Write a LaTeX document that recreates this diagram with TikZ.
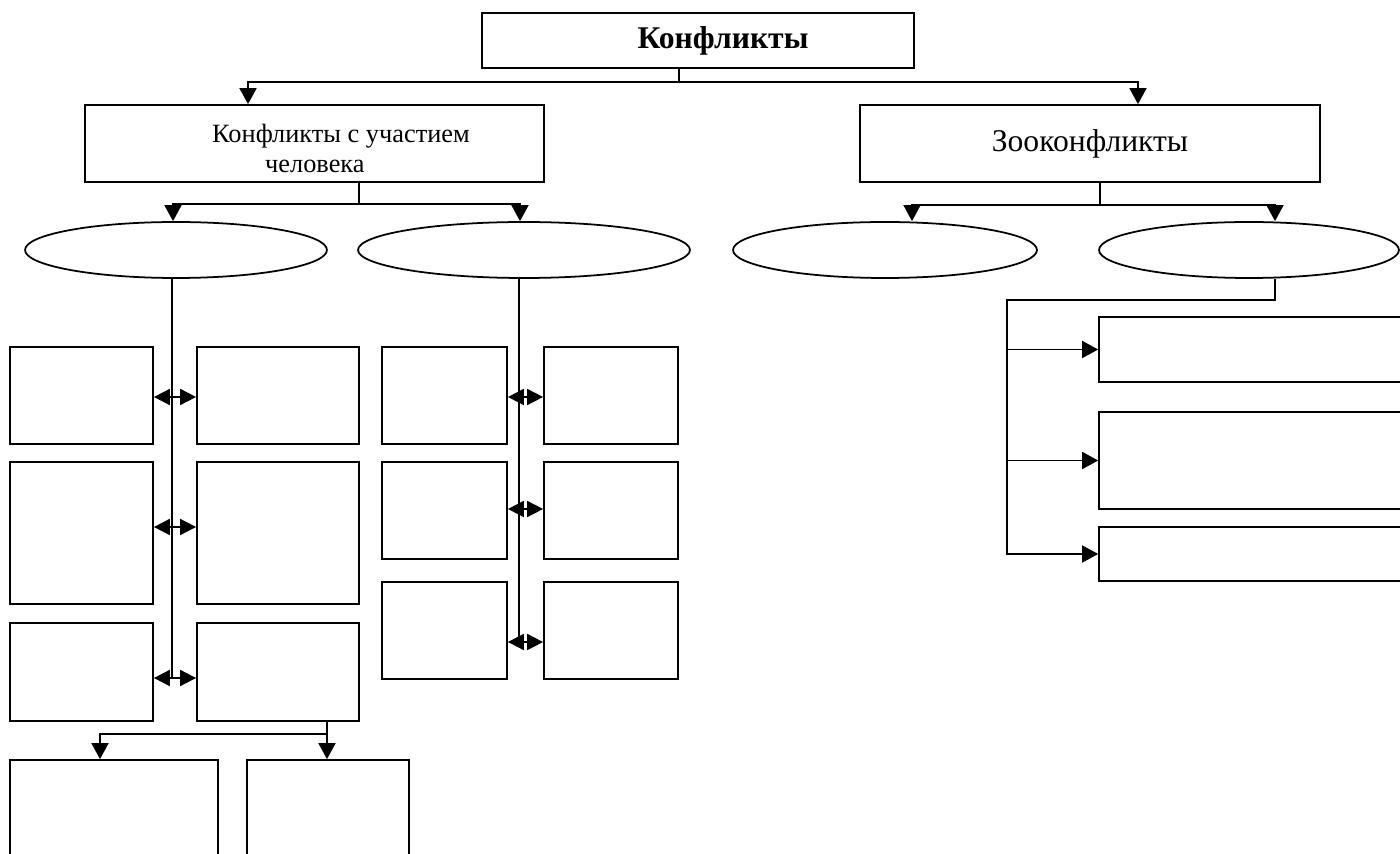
\documentclass[tikz,border=0pt]{standalone}
\usepackage{fontspec}
\setmainfont{Liberation Serif}
\usetikzlibrary{arrows.meta,shapes.geometric}

\begin{document}
\begin{tikzpicture}[x=0.02cm, y=-0.02cm, line width=1pt,
  block/.style={draw, rectangle, inner sep=0pt, line width=1pt},
  oval/.style={draw, ellipse, inner sep=0pt, minimum width=6.04cm, minimum height=1.12cm, line width=1pt},
  arr/.style={-{Triangle[length=0.32cm, width=0.34cm]}},
  dbl/.style={{Triangle[length=0.32cm, width=0.32cm]}-{Triangle[length=0.32cm, width=0.32cm]}}]

  \useasboundingbox (0,0) rectangle (1400,854);

  % Top level
  \node[block, minimum width=8.64cm, minimum height=1.1cm, font=\fontsize{18}{21}\selectfont\bfseries] (K) at (698,40.5) {\hspace*{1cm}Конфликты};

  % Second level
  \node[block, minimum width=9.18cm, minimum height=1.54cm,
    label={[align=left, yshift=-0.1cm, font=\fontsize{15}{17.5}\selectfont]center:\hspace*{1.06cm}Конфликты с участием\\\hspace*{2.12cm}человека}] (H) at (314.5,143.5) {};
  \node[block, minimum width=9.2cm, minimum height=1.54cm, font=\fontsize{18}{21}\selectfont] (Z) at (1090,143.5) {Зооконфликты};

  % Ellipses
  \node[oval] (O1) at (176,250) {};
  \node[oval, minimum width=6.64cm] (O2) at (524,250) {};
  \node[oval, minimum width=6.08cm] (O3) at (885,250) {};
  \node[oval, minimum width=6cm] (O4) at (1249,250) {};

  % Left column
  \node[block, minimum width=2.86cm, minimum height=1.94cm] (A1) at (81.5,395.5) {};
  \node[block, minimum width=2.86cm, minimum height=2.84cm] (A2) at (81.5,533) {};
  \node[block, minimum width=2.86cm, minimum height=1.96cm] (A3) at (81.5,672) {};
  \node[block, minimum width=3.24cm, minimum height=1.94cm] (B1) at (278,395.5) {};
  \node[block, minimum width=3.24cm, minimum height=2.84cm] (B2) at (278,533) {};
  \node[block, minimum width=3.24cm, minimum height=1.96cm] (B3) at (278,672) {};

  % Middle column
  \node[block, minimum width=2.5cm, minimum height=1.94cm] (D1) at (444.5,395.5) {};
  \node[block, minimum width=2.5cm, minimum height=1.94cm] (D2) at (444.5,510.5) {};
  \node[block, minimum width=2.5cm, minimum height=1.94cm] (D3) at (444.5,630.5) {};
  \node[block, minimum width=2.68cm, minimum height=1.94cm] (F1) at (611,395.5) {};
  \node[block, minimum width=2.68cm, minimum height=1.94cm] (F2) at (611,510.5) {};
  \node[block, minimum width=2.68cm, minimum height=1.94cm] (F3) at (611,630.5) {};

  % Right column
  \node[block, minimum width=6.4cm, minimum height=1.3cm] (R1) at (1259,349.5) {};
  \node[block, minimum width=6.4cm, minimum height=1.94cm] (R2) at (1259,460.5) {};
  \node[block, minimum width=6.4cm, minimum height=1.08cm] (R3) at (1259,554) {};

  % Bottom row
  \node[block, minimum width=4.16cm, minimum height=2.4cm] (C1) at (114,820) {};
  \node[block, minimum width=3.24cm, minimum height=2.4cm] (C2) at (328,820) {};

  % Top branches
  \coordinate (kj) at (679,82);
  \draw (K.south -| kj) -- (kj);
  \draw[arr] (kj) -| ([xshift=-1.33cm]H.north);
  \draw[arr] (kj) -| ([xshift=0.96cm]Z.north);

  \coordinate (hj) at (359,204);
  \draw (H.south -| hj) -- (hj);
  \draw[arr] (hj) -| ([xshift=-0.06cm]O1.north);
  \draw[arr] (hj) -| ([xshift=-0.08cm]O2.north);

  \coordinate (zj) at (1100,205);
  \draw (Z.south -| zj) -- (zj);
  \draw[arr] (zj) -| ([xshift=0.54cm]O3.north);
  \draw[arr] (zj) -| ([xshift=0.52cm]O4.north);

  % Left trunk
  \coordinate (la1) at (172,397);
  \coordinate (la2) at (172,527);
  \coordinate (la3) at (172,678);
  \draw (la1 |- O1.south) -- (la3);
  \draw[dbl] (A1.east |- la1) -- (B1.west |- la1);
  \draw[dbl] (A2.east |- la2) -- (B2.west |- la2);
  \draw[dbl] (A3.east |- la3) -- (B3.west |- la3);

  % Middle trunk
  \coordinate (ma1) at (519,397);
  \coordinate (ma2) at (519,509);
  \coordinate (ma3) at (519,642);
  \draw (ma1 |- O2.south) -- (ma3);
  \draw[dbl] (D1.east |- ma1) -- (F1.west |- ma1);
  \draw[dbl] (D2.east |- ma2) -- (F2.west |- ma2);
  \draw[dbl] (D3.east |- ma3) -- (F3.west |- ma3);

  % Right trunk
  \coordinate (rt) at (1007,300);
  \draw[arr] ([xshift=0.52cm]O4.south) |- (rt) -- (rt |- R3.west) -- (R3.west);
  \draw[arr] (rt |- R1.west) -- (R1.west);
  \draw[arr] (rt |- R2.west) -- (R2.west);

  % Bottom branches
  \coordinate (bj) at (327,734);
  \draw (B3.south -| bj) -- (bj);
  \draw[arr] (bj) -| ([xshift=-0.28cm]C1.north);
  \draw[arr] (bj) -- (bj |- C2.north);

\end{tikzpicture}
\end{document}
